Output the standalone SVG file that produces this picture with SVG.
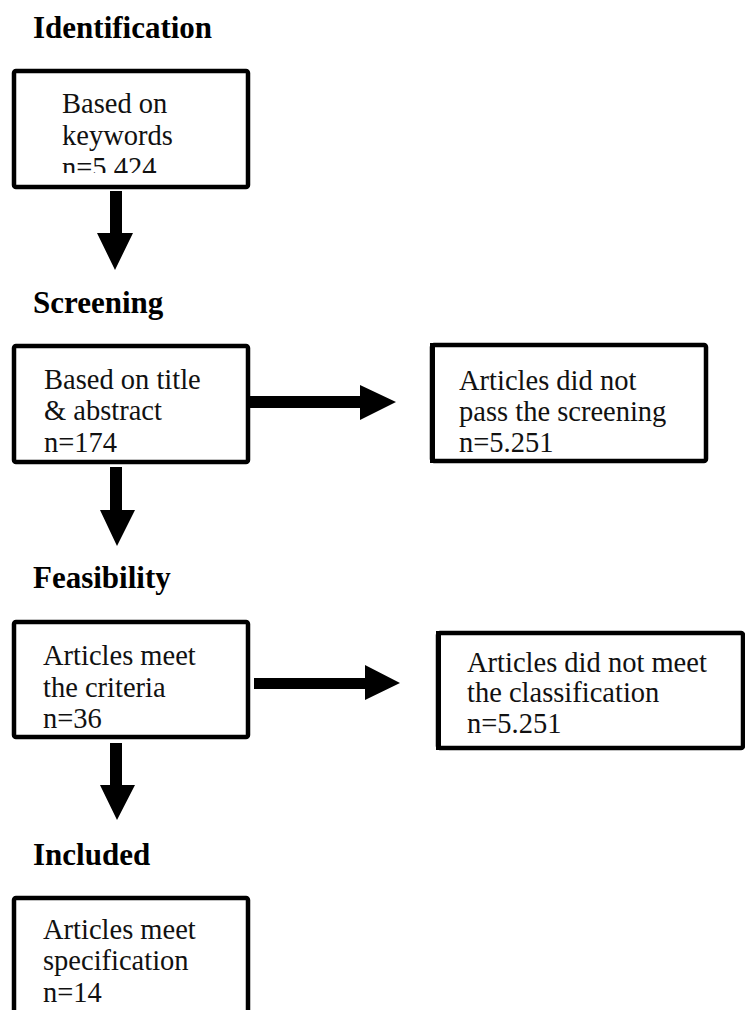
<svg xmlns="http://www.w3.org/2000/svg" width="745" height="1010" viewBox="0 0 745 1010">
<defs>
<style>
.h{font-family:"Liberation Serif","DejaVu Serif",serif;font-weight:bold;font-size:31px;fill:#000}
.t{font-family:"Liberation Serif","DejaVu Serif",serif;font-size:28.5px;fill:#111}
.box{fill:#fff;stroke:#000;stroke-width:4.5}
.ar{fill:#000}
</style>
<clipPath id="c1"><rect x="14" y="72" width="232" height="101"/></clipPath>
</defs>
<rect width="745" height="1010" fill="#fff"/>
<text class="h" x="33" y="38">Identification</text>
<text class="h" x="33" y="313">Screening</text>
<text class="h" x="33" y="588">Feasibility</text>
<text class="h" x="33" y="865">Included</text>
<g id="n1">
<rect class="box" x="14" y="71" width="234" height="116" rx="2"/>
<g clip-path="url(#c1)">
<text class="t" x="62" y="113">Based on</text>
<text class="t" x="62" y="145">keywords</text>
<text class="t" x="62" y="177">n=5.424</text>
</g>
</g>
<g id="n2">
<rect class="box" x="14" y="346" width="234" height="116" rx="2"/>
<text class="t" x="44" y="389">Based on title</text>
<text class="t" x="44" y="420">&amp; abstract</text>
<text class="t" x="44" y="452">n=174</text>
</g>
<g id="n3">
<rect class="box" x="432" y="345" width="274" height="116" rx="2"/>
<rect x="430" y="343" width="5" height="120" fill="#000"/>
<text class="t" x="459" y="390">Articles did not</text>
<text class="t" x="459" y="421">pass the screening</text>
<text class="t" x="459" y="452">n=5.251</text>
</g>
<g id="n4">
<rect class="box" x="14" y="622" width="234" height="115" rx="2"/>
<text class="t" x="43" y="665">Articles meet</text>
<text class="t" x="43" y="697">the criteria</text>
<text class="t" x="43" y="728">n=36</text>
</g>
<g id="n5">
<rect class="box" x="438" y="633" width="305" height="115" rx="2"/>
<rect x="436" y="631" width="5" height="119" fill="#000"/>
<text class="t" x="467" y="672">Articles did not meet</text>
<text class="t" x="467" y="702">the classification</text>
<text class="t" x="467" y="733">n=5.251</text>
</g>
<g id="n6">
<rect class="box" x="14" y="898" width="234" height="140" rx="2"/>
<text class="t" x="43" y="939">Articles meet</text>
<text class="t" x="43" y="970">specification</text>
<text class="t" x="43" y="1002">n=14</text>
</g>
<g id="connectors">
<polygon class="ar" points="110,191 122,191 122,233 133,233 115,270 97,233 110,233"/>
<polygon class="ar" points="110,467 122,467 122,510 135,510 117,546 100,510 110,510"/>
<polygon class="ar" points="110,743 122,743 122,785 135,785 117,820 100,785 110,785"/>
<polygon class="ar" points="250,396 360,396 360,385 396,402 360,420 360,408 250,408"/>
<polygon class="ar" points="254,678 365,678 365,665 400,683 365,700 365,689 254,689"/>
</g>
</svg>
